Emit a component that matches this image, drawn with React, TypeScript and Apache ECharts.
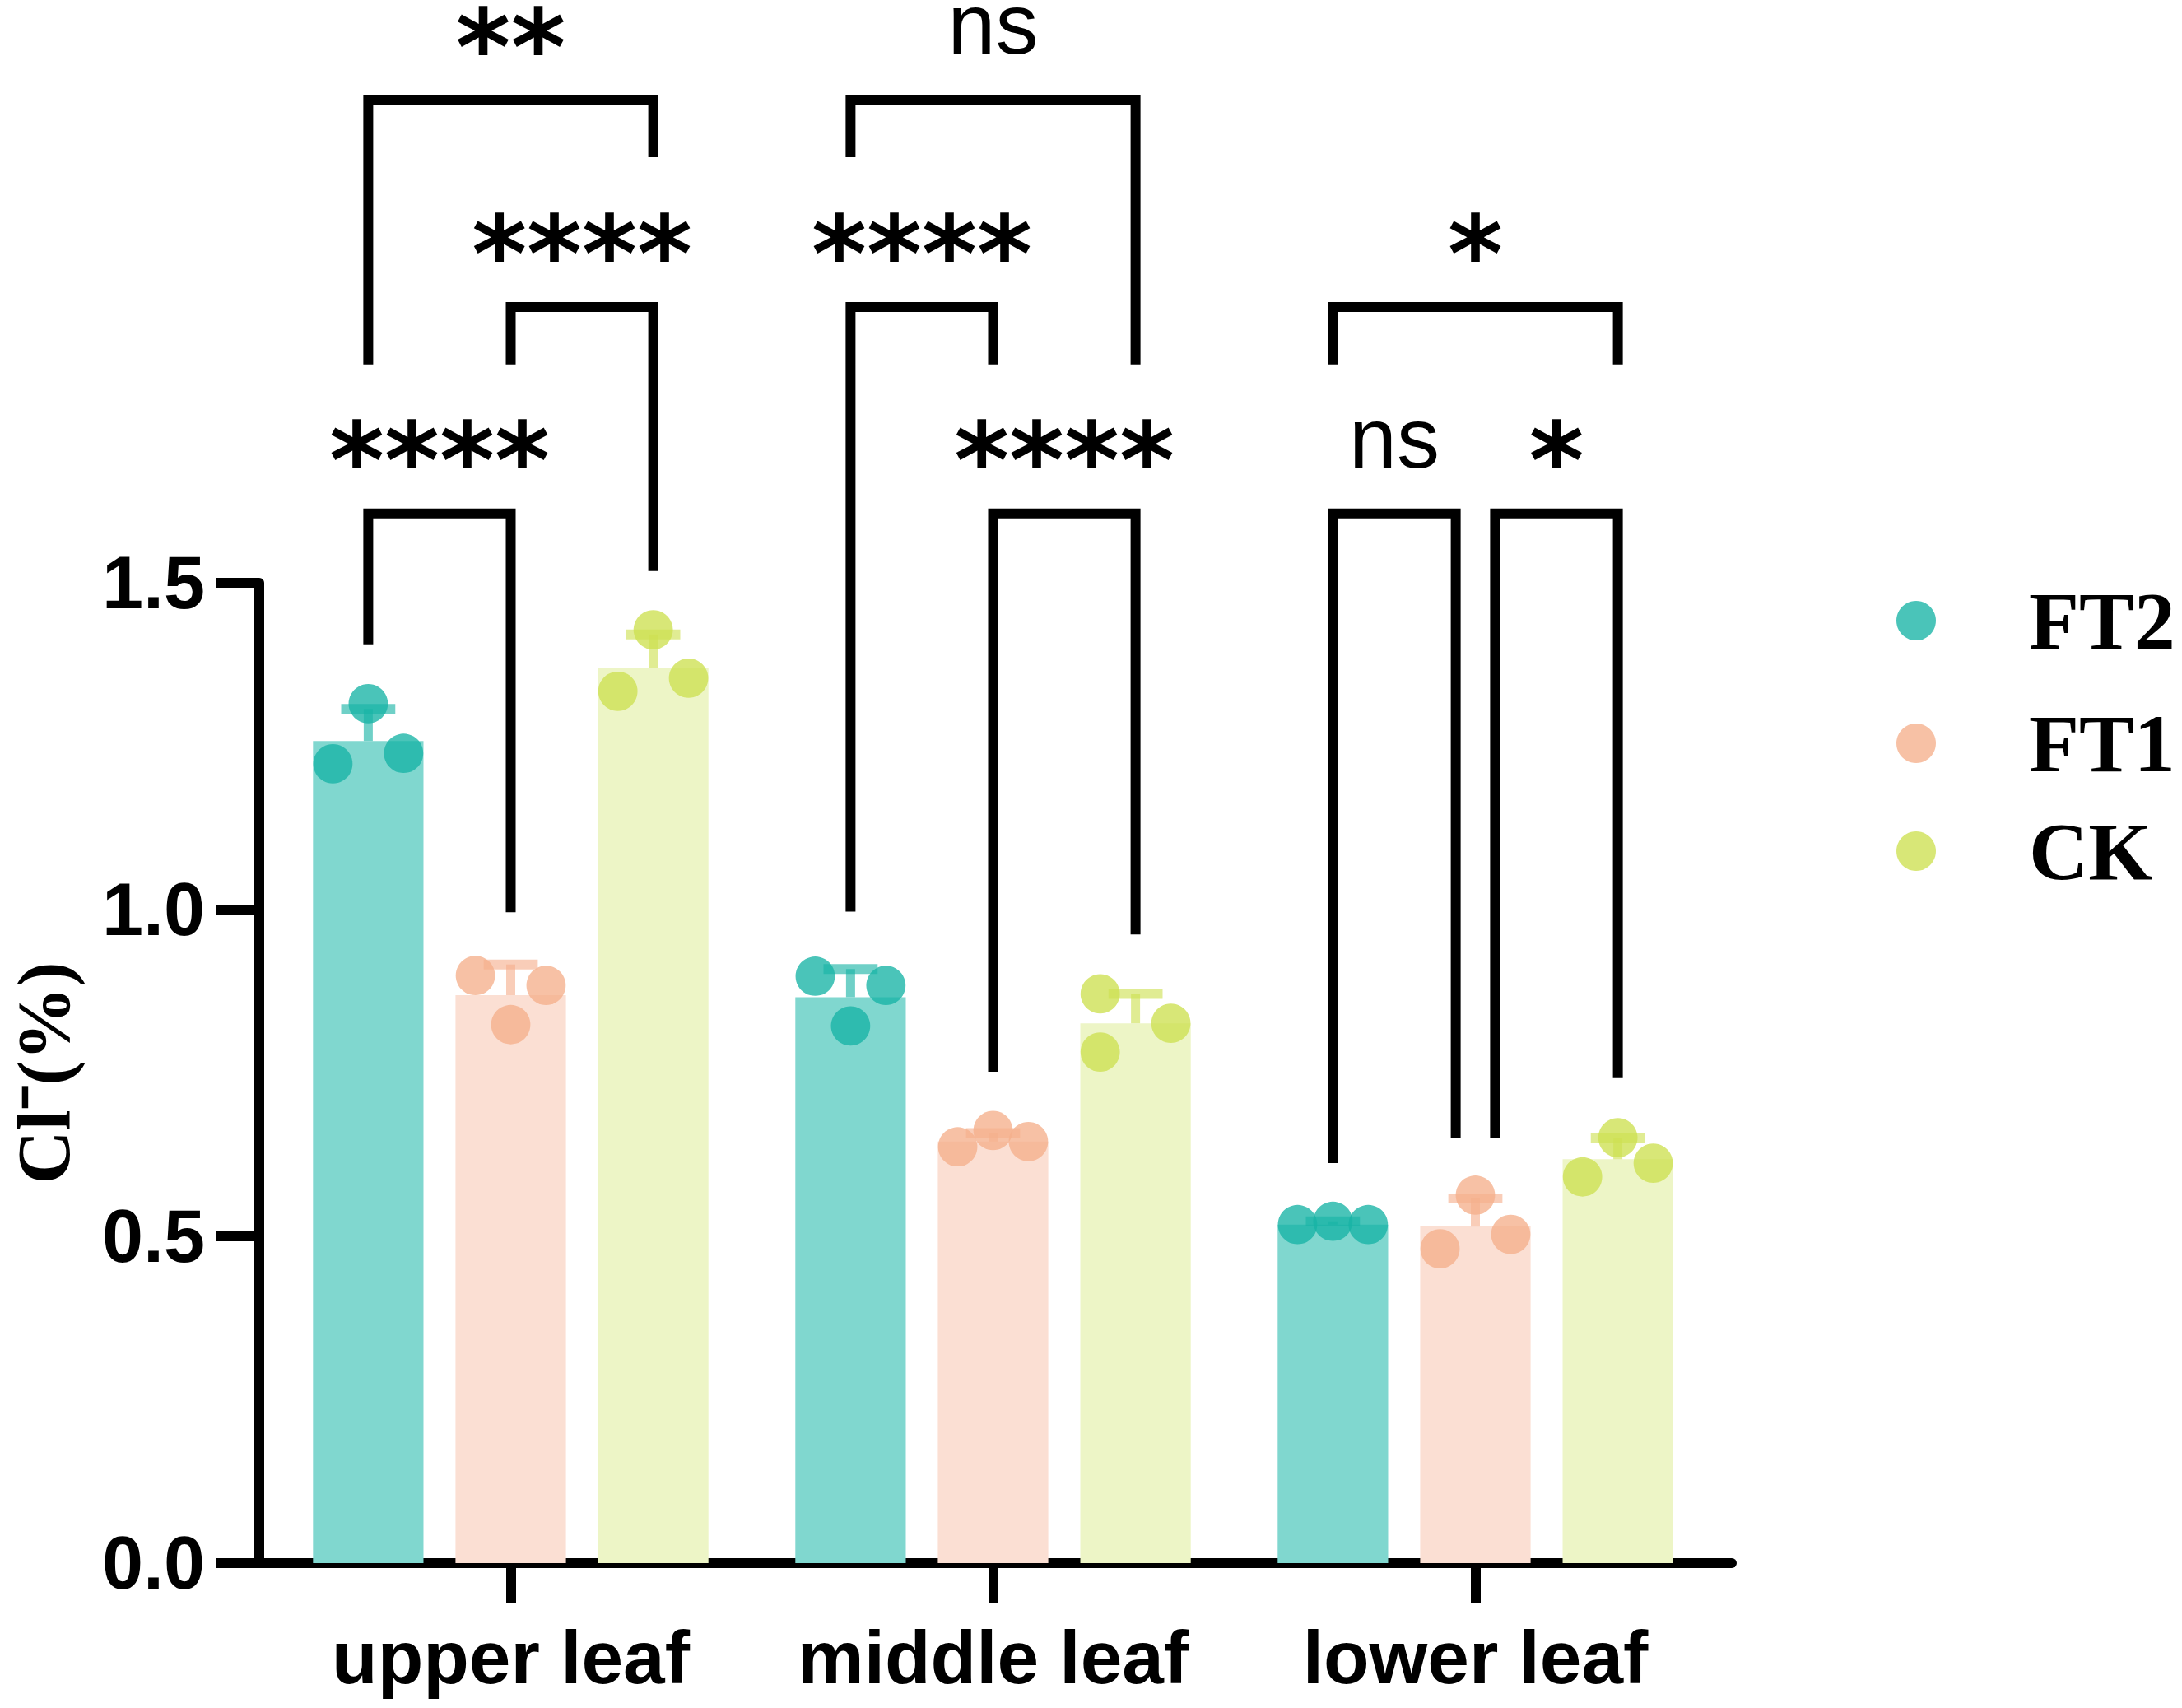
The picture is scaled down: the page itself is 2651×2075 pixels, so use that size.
import React, { useEffect, useRef } from "react";
import * as echarts from "echarts";

const CATEGORIES = ["upper leaf", "middle leaf", "lower leaf"];
const GROUPS = ["FT2", "FT1", "CK"];
const Y_TICKS = [0, 0.5, 1.0, 1.5];

const FT2_MEAN = [1.258, 0.866, 0.518];
const FT1_MEAN = [0.869, 0.645, 0.515];
const CK_MEAN = [1.37, 0.826, 0.618];

const FT2_SD = [0.049, 0.043, 0.005];
const FT1_SD = [0.047, 0.013, 0.043];
const CK_SD = [0.051, 0.045, 0.032];

const FT2_POINTS = [[1.223, 1.315, 1.239], [0.898, 0.822, 0.884], [0.518, 0.523, 0.518]];
const FT1_POINTS = [[0.899, 0.824, 0.884], [0.637, 0.662, 0.645], [0.481, 0.563, 0.503]];
const CK_POINTS = [[1.334, 1.428, 1.354], [0.871, 0.782, 0.826], [0.591, 0.651, 0.612]];

// horizontal placement of each replicate inside its bar (-1 left, 0 centre, 1 right)
const FT2_JITTER = [[-1, 0, 1], [-1, 0, 1], [-1, 0, 1]];
const FT1_JITTER = [[-1, 0, 1], [-1, 0, 1], [-1, 0, 1]];
const CK_JITTER = [[-1, 0, 1], [-1, -1, 1], [-1, 0, 1]];

// [category, fromBar, toBar, bracketLevel, legBottomFrom, legBottomTo, shiftFrom, shiftTo]
const BRACKETS = [
  [0, 0, 1, 1.606, 1.406, 0.996, 0, 0],
  [0, 1, 2, 1.922, 1.834, 1.518, 0, 0],
  [0, 0, 2, 2.239, 1.834, 2.151, 0, 0],
  [1, 0, 1, 1.922, 0.997, 1.834, 0, 0],
  [1, 1, 2, 1.606, 0.752, 0.962, 0, 0],
  [1, 0, 2, 2.239, 2.151, 1.834, 0, 0],
  [2, 0, 1, 1.606, 0.612, 0.651, 0, -0.138],
  [2, 1, 2, 1.606, 0.651, 0.742, 0.138, 0],
  [2, 0, 2, 1.922, 1.834, 1.834, 0, 0],
];
const BRACKET_LABELS = ["****", "****", "**", "****", "****", "ns", "ns", "*", "*"];

const BAR_COLORS = ["#80d7cf", "#fbdfd3", "#edf5c6"];
const POINT_COLORS = ["rgba(23,179,165,0.78)", "rgba(245,175,140,0.78)", "rgba(205,224,81,0.78)"];
const ERR_COLORS = ["rgba(23,179,165,0.62)", "rgba(245,175,140,0.62)", "rgba(205,224,81,0.62)"];

const BAR_W = 0.229;
const BAR_GAP = 0.29;
const SANS = '"Liberation Sans", Arial, Helvetica, sans-serif';
const SERIF = '"Liberation Serif", "Times New Roman", serif';

const MEANS = [FT2_MEAN, FT1_MEAN, CK_MEAN];
const SDS = [FT2_SD, FT1_SD, CK_SD];
const POINTS = [FT2_POINTS, FT1_POINTS, CK_POINTS];
const JITTERS = [FT2_JITTER, FT1_JITTER, CK_JITTER];

function barLayout(api: any) {
  const band = api.size([1, 0])[0];
  const bw = band * BAR_W;
  return { bw, pitch: bw * (1 + BAR_GAP) };
}

export default function App() {
  const ref = useRef<HTMLDivElement>(null);
  useEffect(() => {
    if (!ref.current) return;
    const chart = echarts.init(ref.current, null, { renderer: "svg" });

    const barSeries = GROUPS.map((g, gi) => ({
      name: g + " mean",
      type: "bar",
      xAxisIndex: 0,
      yAxisIndex: 0,
      data: MEANS[gi],
      barWidth: (BAR_W * 100).toFixed(1) + "%",
      barGap: BAR_GAP * 100 + "%",
      itemStyle: { color: BAR_COLORS[gi] },
      z: 2,
      silent: true,
    }));

    const errSeries = GROUPS.map((g, gi) => ({
      name: g + " SD",
      type: "custom",
      xAxisIndex: 0,
      yAxisIndex: 0,
      z: 3,
      silent: true,
      encode: { x: 0, y: 1 },
      data: CATEGORIES.map((_, c) => [c, MEANS[gi][c], SDS[gi][c]]),
      renderItem: (params: any, api: any) => {
        const c = api.value(0);
        const m = api.value(1);
        const s = api.value(2);
        const base = api.coord([c, m]);
        const top = api.coord([c, m + s]);
        const { bw, pitch } = barLayout(api);
        const x = base[0] + (gi - 1) * pitch;
        const capW = bw * 0.49;
        return {
          type: "group",
          children: [
            { type: "rect", shape: { x: x - 5.5, y: top[1], width: 11, height: base[1] - top[1] }, style: { fill: ERR_COLORS[gi] } },
            { type: "rect", shape: { x: x - capW / 2, y: top[1] - 6, width: capW, height: 12 }, style: { fill: ERR_COLORS[gi] } },
          ],
        };
      },
    }));

    const pointSeries = GROUPS.map((g, gi) => {
      const data: number[][] = [];
      CATEGORIES.forEach((_, c) => {
        POINTS[gi][c].forEach((v, k) => data.push([c, v, JITTERS[gi][c][k]]));
      });
      return {
        name: g,
        type: "custom",
        xAxisIndex: 0,
        yAxisIndex: 0,
        z: 4,
        silent: true,
        encode: { x: 0, y: 1 },
        itemStyle: { color: POINT_COLORS[gi] },
        data,
        renderItem: (params: any, api: any) => {
          const c = api.value(0);
          const v = api.value(1);
          const j = api.value(2);
          const p = api.coord([c, v]);
          const { bw, pitch } = barLayout(api);
          const x = p[0] + (gi - 1) * pitch + j * 0.32 * bw;
          return { type: "circle", shape: { cx: x, cy: p[1], r: bw * 0.178 }, style: { fill: POINT_COLORS[gi] } };
        },
      };
    });

    const bracketSeries = {
      name: "significance",
      type: "custom",
      xAxisIndex: 0,
      yAxisIndex: 0,
      z: 5,
      silent: true,
      clip: false,
      encode: { x: 0, y: 3 },
      data: BRACKETS,
      renderItem: (params: any, api: any) => {
        const c = api.value(0);
        const fb = api.value(1);
        const tb = api.value(2);
        const lvl = api.value(3);
        const bf = api.value(4);
        const bt = api.value(5);
        const sf = api.value(6);
        const st = api.value(7);
        const { pitch } = barLayout(api);
        const centre = api.coord([c, lvl]);
        const yl = centre[1];
        const xf = centre[0] + (fb - 1 + sf) * pitch;
        const xt = centre[0] + (tb - 1 + st) * pitch;
        const yf = api.coord([c, bf])[1];
        const yt = api.coord([c, bt])[1];
        const label = BRACKET_LABELS[params.dataIndex];
        const isNs = label === "ns";
        return {
          type: "group",
          children: [
            {
              type: "polyline",
              shape: { points: [[xf, yf], [xf, yl], [xt, yl], [xt, yt]] },
              style: { stroke: "#000", lineWidth: 12, fill: null, lineJoin: "miter", lineCap: "butt" },
            },
            {
              type: "text",
              x: (xf + xt) / 2,
              y: isNs ? yl - 92 : yl - 63,
              style: {
                text: label,
                fill: "#000",
                fontFamily: isNs ? SANS : '"DejaVu Sans", sans-serif',
                fontWeight: isNs ? "normal" : "bold",
                fontSize: isNs ? 104 : 128,
                lineHeight: 56,
                align: "center",
                verticalAlign: "middle",
              },
            },
          ],
        };
      },
    };

    const legendTops = [704, 853, 984];
    const legends = GROUPS.map((g, gi) => ({
      show: true,
      selectedMode: false,
      left: 2304,
      top: legendTops[gi],
      padding: 0,
      orient: "vertical",
      icon: "circle",
      itemWidth: 48,
      itemHeight: 48,
      data: [{ name: g, itemStyle: { color: POINT_COLORS[gi] } }],
      textStyle: { fontFamily: SERIF, fontWeight: "bold", fontSize: 100, color: "#000", padding: [0, 0, 0, 108] },
    }));

    chart.setOption({
      animation: false,
      backgroundColor: "#fff",
      legend: legends,
      grid: [
        { left: 318.5, width: 1767, top: 708, height: 1191, containLabel: false },
        { left: 306, width: 1798, top: 708, height: 1191, containLabel: false },
      ],
      xAxis: [
        {
          type: "category",
          gridIndex: 0,
          data: CATEGORIES,
          axisLine: { show: false },
          axisTick: { show: true, alignWithLabel: true, interval: 0, length: 48, lineStyle: { color: "#000", width: 12 } },
          axisLabel: { interval: 0, color: "#000", fontFamily: SANS, fontWeight: "bold", fontSize: 91, margin: 69 },
          splitLine: { show: false },
        },
        {
          type: "value",
          gridIndex: 1,
          min: 0,
          max: 1,
          axisLine: { show: true, onZero: false, lineStyle: { color: "#000", width: 12 } },
          axisTick: { show: false },
          axisLabel: { show: false },
          splitLine: { show: false },
        },
      ],
      yAxis: [
        {
          type: "value",
          gridIndex: 0,
          min: Y_TICKS[0],
          max: Y_TICKS[Y_TICKS.length - 1],
          interval: 0.5,
          offset: 12.5,
          name: "Cl\u207B(%)",
          nameLocation: "middle",
          nameGap: 217,
          nameTextStyle: { fontFamily: SERIF, fontWeight: "bold", fontSize: 90, color: "#000" },
          axisLine: { show: true, lineStyle: { color: "#000", width: 12 } },
          axisTick: { show: true, length: 52, lineStyle: { color: "#000", width: 12 } },
          axisLabel: {
            color: "#000",
            fontFamily: SANS,
            fontWeight: "bold",
            fontSize: 90,
            margin: 66,
            formatter: (v: number) => v.toFixed(1),
          },
          splitLine: { show: false },
        },
        { type: "value", gridIndex: 1, show: false, min: 0, max: 1 },
      ],
      series: [...barSeries, ...errSeries, ...pointSeries, bracketSeries],
    });

    return () => chart.dispose();
  }, []);

  return (
    <div
      ref={ref}
      style={{ position: "absolute", left: 0, top: 0, width: 2651, height: 2075, background: "#fff" }}
    />
  );
}
